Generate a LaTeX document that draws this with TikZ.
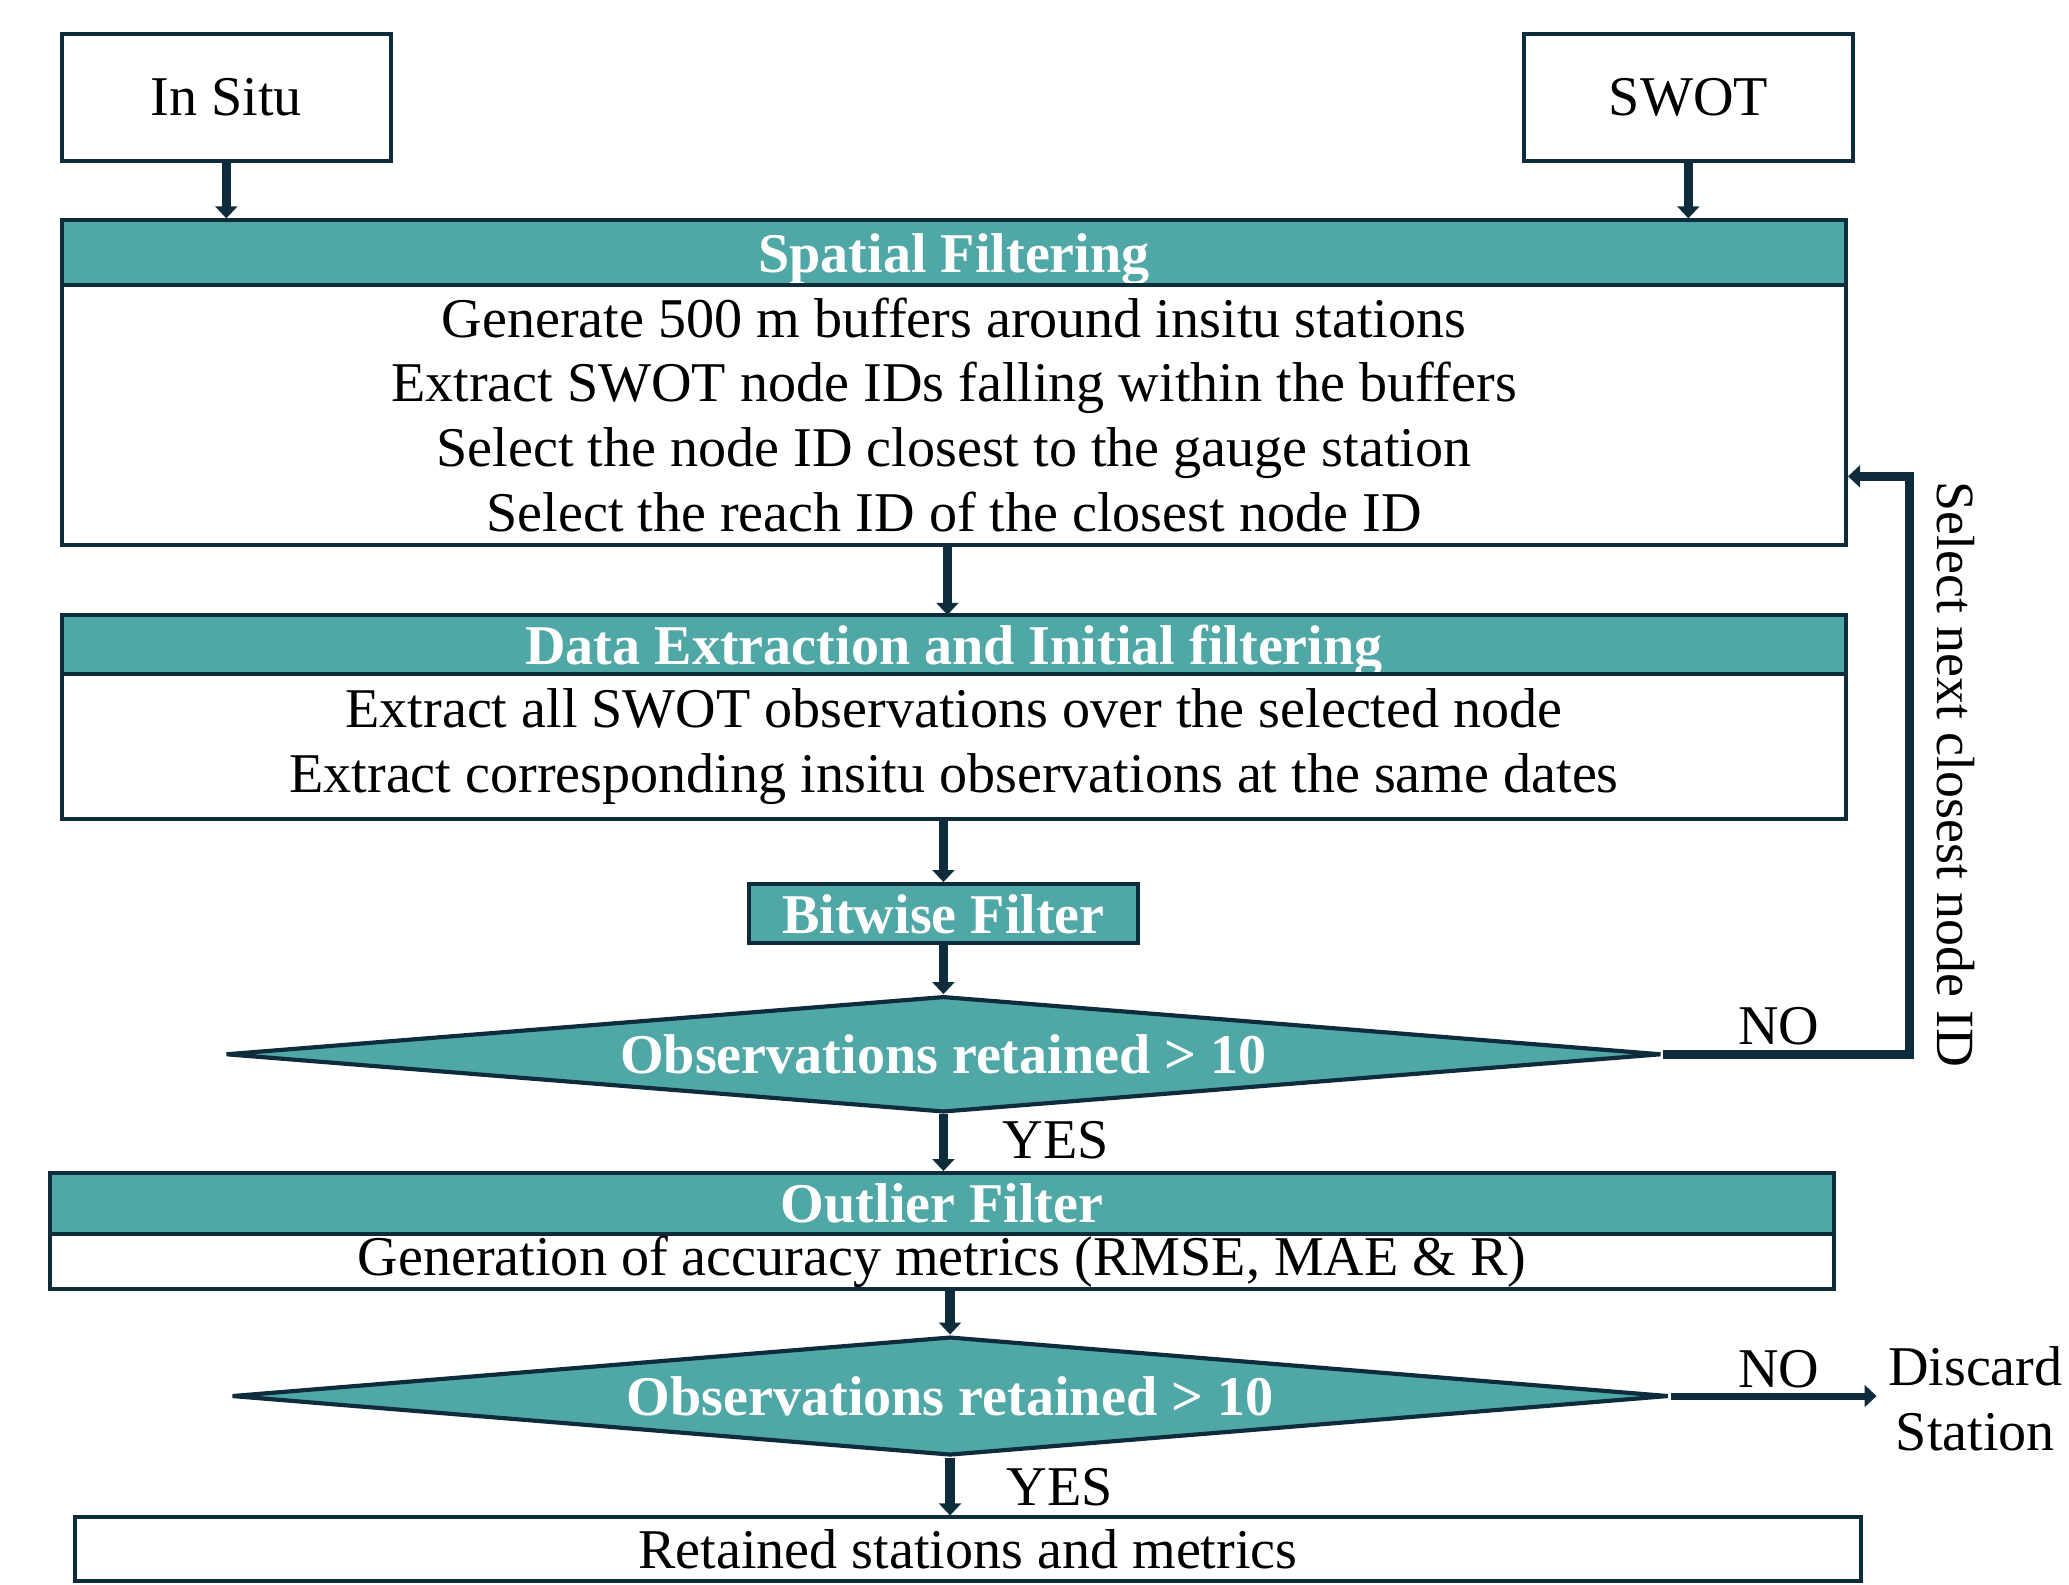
\documentclass[tikz,border=0pt]{standalone}
\usepackage{fontspec}
\setmainfont{Liberation Serif}
\usetikzlibrary{shapes.geometric,arrows.meta}
\definecolor{swotteal}{RGB}{79,167,166}
\definecolor{swotnavy}{RGB}{15,44,61}

\begin{document}
\begin{tikzpicture}[
  every node/.style={font=\fontsize{12.1}{14}\selectfont, inner sep=0pt},
  box/.style={draw=swotnavy, line width=0.85pt, fill=white},
  head/.style={box, fill=swotteal, text=white, text depth=0pt, font=\fontsize{12.1}{14}\selectfont\bfseries},
  check/.style={diamond, aspect=12.4, draw=swotnavy, line width=0.9pt, fill=swotteal, text=white, font=\fontsize{12.1}{14}\selectfont\bfseries},
  flow/.style={draw=swotnavy, line width=2pt, -{Triangle[width=4.7pt,length=2.6pt]}}
]
\useasboundingbox (0,0) rectangle (15.68,12.01);
%\draw[help lines, color=gray!30, dashed] (0,0) grid (15.68,12.01);
\node[box, minimum width=2.49cm, minimum height=0.96cm] (insitu) at (1.715,11.27) {In Situ};
\node[box, minimum width=2.49cm, minimum height=0.96cm] (swot) at (12.795,11.27) {SWOT};

\node[head, minimum width=13.52cm, minimum height=0.49cm] (spatialhead) at (7.23,10.095) {Spatial Filtering};
\node[box, align=center, minimum width=13.52cm, minimum height=1.97cm] (spatialbody) at (7.23,8.865)
  {Generate 500 m buffers around insitu stations\\
   Extract SWOT node IDs falling within the buffers\\
   Select the node ID closest to the gauge station\\
   Select the reach ID of the closest node ID};

\node[head, minimum width=13.52cm, minimum height=0.45cm] (datahead) at (7.23,7.125) {Data Extraction and Initial filtering};
\node[box, align=center, minimum width=13.52cm, minimum height=1.10cm] (databody) at (7.23,6.35)
  {Extract all SWOT observations over the selected node\\
   Extract corresponding insitu observations at the same dates};

\node[head, minimum width=2.95cm, minimum height=0.45cm] (bitwise) at (7.15,5.085) {Bitwise Filter};
\node[check, minimum width=10.88cm, minimum height=0.88cm] (check1) at (7.15,4.02) {Observations retained > 10};

\node[head, minimum width=13.52cm, minimum height=0.46cm] (outlierhead) at (7.14,2.89) {Outlier Filter};
\node[box, minimum width=13.52cm, minimum height=0.42cm] (outlierbody) at (7.14,2.45) {Generation of accuracy metrics (RMSE, MAE \& R)};

\node[check, minimum width=10.89cm, minimum height=0.90cm] (check2) at (7.2,1.43) {Observations retained > 10};
\node[box, minimum width=13.53cm, minimum height=0.48cm] (retained) at (7.335,0.27) {Retained stations and metrics};

\node (no1) at (13.48,4.23) {NO};
\node (no2) at (13.48,1.63) {NO};
\node (yes1) at (8.00,3.37) {YES};
\node (yes2) at (8.03,0.74) {YES};
\node[rotate=-90, font=\fontsize{11.6}{14}\selectfont] (nextid) at (14.82,6.14) {Select next closest node ID};
\node[align=center] (discard) at (14.97,1.41) {Discard\\Station};
\coordinate (loop) at (14.47,8.40);

\draw[flow] (insitu.south) -- (insitu.south |- spatialhead.north);
\draw[flow] (swot.south) -- (swot.south |- spatialhead.north);
\draw[flow] (7.18,7.88) -- (7.18,7.35);
\draw[flow] (bitwise.north |- databody.south) -- (bitwise.north);
\draw[flow] (bitwise.south) -- (check1.north);
\draw[flow] (check1.south) -- (check1.south |- outlierhead.north);
\draw[flow] (check2.north |- outlierbody.south) -- (check2.north);
\draw[flow] (check2.south) -- (check2.south |- retained.north);
\draw[flow] (check1.east) -| (loop) -- (loop -| spatialbody.east);
\draw[flow, line width=1.5pt, shorten >=0.8mm] (check2.east) -- (check2.east -| discard.west);
\end{tikzpicture}
\end{document}
